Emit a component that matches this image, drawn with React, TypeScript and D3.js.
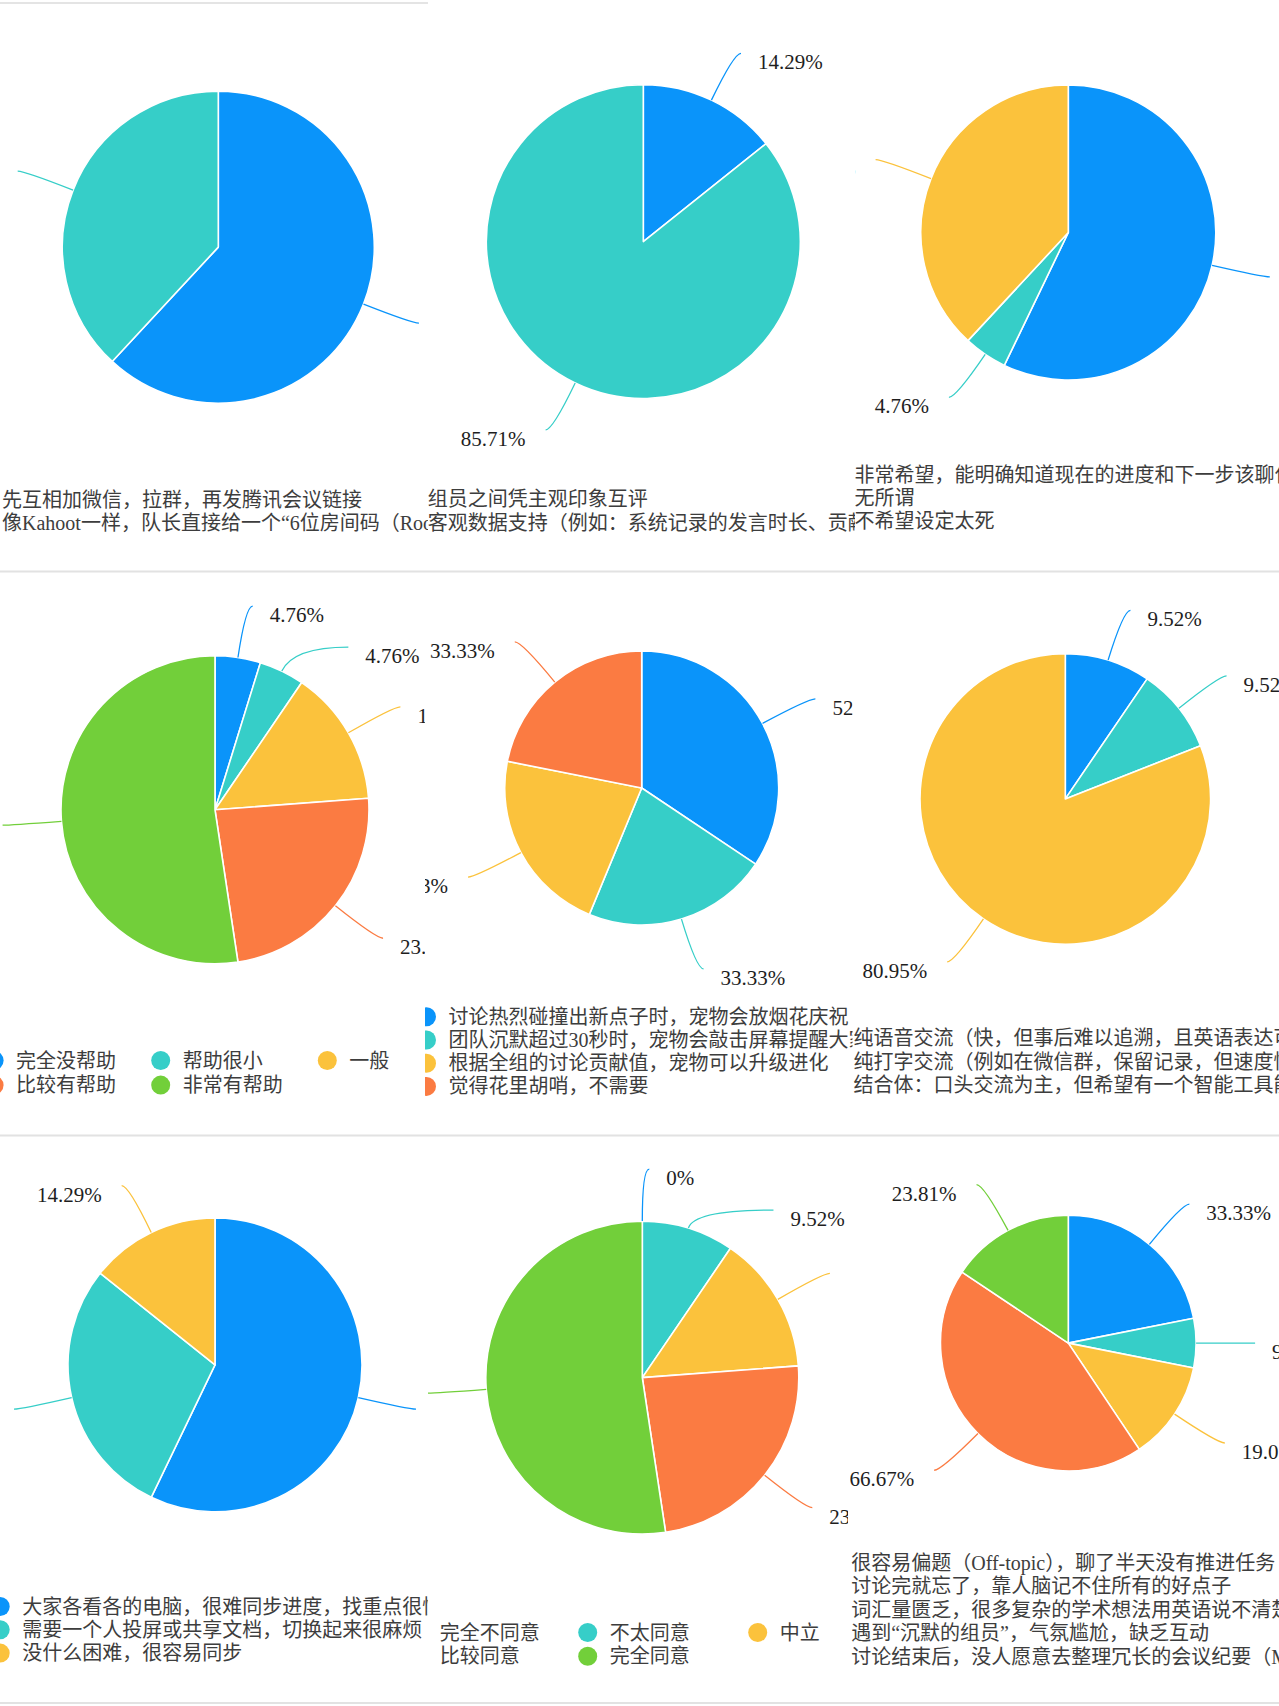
import React from "react";
import * as d3 from "d3";

// ---------- data ----------
const RESPONDENTS = 21;
const SERIES_COLORS = ["#0A94FA", "#36CEC8", "#FBC23C", "#FB7B42", "#72CF3A"];

const q1Options = [
  "先互相加微信，拉群，再发腾讯会议链接",
  "像Kahoot一样，队长直接给一个“6位房间码（Room Code）”，大家输入即可加入",
];
const q1Counts = [13, 8];

const q2Options = [
  "组员之间凭主观印象互评",
  "客观数据支持（例如：系统记录的发言时长、贡献度）",
];
const q2Counts = [3, 18];

const q3Options = [
  "非常希望，能明确知道现在的进度和下一步该聊什么",
  "无所谓",
  "不希望设定太死",
];
const q3Counts = [12, 1, 8];

const q4Options = ["完全没帮助", "帮助很小", "一般", "比较有帮助", "非常有帮助"];
const q4Counts = [1, 1, 3, 5, 11];

const q5Options = [
  "讨论热烈碰撞出新点子时，宠物会放烟花庆祝",
  "团队沉默超过30秒时，宠物会敲击屏幕提醒大家",
  "根据全组的讨论贡献值，宠物可以升级进化",
  "觉得花里胡哨，不需要",
];
const q5Counts = [11, 7, 7, 7];

const q6Options = [
  "纯语音交流（快，但事后难以追溯，且英语表达可能不准确）",
  "纯打字交流（例如在微信群，保留记录，但速度慢）",
  "结合体：口头交流为主，但希望有一个智能工具能实时记录",
];
const q6Counts = [2, 2, 17];

const q7Options = [
  "大家各看各的电脑，很难同步进度，找重点很慢",
  "需要一个人投屏或共享文档，切换起来很麻烦",
  "没什么困难，很容易同步",
];
const q7Counts = [12, 6, 3];

const q8Options = ["完全不同意", "不太同意", "中立", "比较同意", "完全同意"];
const q8Counts = [0, 2, 3, 5, 11];

const q9Options = [
  "很容易偏题（Off-topic），聊了半天没有推进任务",
  "讨论完就忘了，靠人脑记不住所有的好点子",
  "词汇量匮乏，很多复杂的学术想法用英语说不清楚",
  "遇到“沉默的组员”，气氛尴尬，缺乏互动",
  "讨论结束后，没人愿意去整理冗长的会议纪要（Minutes）",
];
const q9Counts = [7, 2, 4, 14, 5];

// ---------- layout ----------
type LegendCfg =
  | { kind: "list"; x: number; y: number; step: number }
  | { kind: "grid"; x: number; y: number; step: number; colW: number; cols: number };

type PanelCfg = {
  options: string[];
  counts: number[];
  clip: [number, number, number, number];
  cx: number;
  cy: number;
  r: number;
  legend: LegendCfg;
};

const PANELS: PanelCfg[] = [
  { options: q1Options, counts: q1Counts, clip: [0, 0, 428, 571], cx: 218.3, cy: 247.1, r: 156,
    legend: { kind: "list", x: 2, y: 499.6, step: 23.6 } },
  { options: q2Options, counts: q2Counts, clip: [428, 0, 855, 571], cx: 643.3, cy: 241.6, r: 157,
    legend: { kind: "list", x: 427.8, y: 499, step: 23.6 } },
  { options: q3Options, counts: q3Counts, clip: [855, 0, 1279, 571], cx: 1068.3, cy: 232.5, r: 147.5,
    legend: { kind: "list", x: 854.5, y: 475.3, step: 22.9 } },
  { options: q4Options, counts: q4Counts, clip: [0, 571, 425, 1135], cx: 215, cy: 809.8, r: 154,
    legend: { kind: "grid", x: -5.9, y: 1060.5, step: 24.6, colW: 166.6, cols: 3 } },
  { options: q5Options, counts: q5Counts, clip: [425, 571, 852.5, 1135], cx: 641.7, cy: 788, r: 137,
    legend: { kind: "list", x: 448.5, y: 1016.8, step: 23.2 } },
  { options: q6Options, counts: q6Counts, clip: [852.5, 571, 1279, 1135], cx: 1065.3, cy: 798.9, r: 145.3,
    legend: { kind: "list", x: 853.5, y: 1038.2, step: 23.3 } },
  { options: q7Options, counts: q7Counts, clip: [0, 1135, 428, 1706], cx: 215, cy: 1364.9, r: 147,
    legend: { kind: "list", x: 22.2, y: 1606.5, step: 23.3 } },
  { options: q8Options, counts: q8Counts, clip: [428, 1135, 848, 1706], cx: 642.3, cy: 1377.6, r: 156.5,
    legend: { kind: "grid", x: 417.7, y: 1632.5, step: 23.8, colW: 170, cols: 3 } },
  { options: q9Options, counts: q9Counts, clip: [850, 1135, 1279, 1706], cx: 1068.3, cy: 1343.1, r: 127.8,
    legend: { kind: "list", x: 851.2, y: 1562.5, step: 23.65 } },
];

const LABEL_LEN1 = 52;
const LABEL_LEN2 = 7;
const LABEL_GAP = 41;
const LABEL_TEXT_GAP_RIGHT = 17;
const LABEL_TEXT_GAP_LEFT = 20;
const MARKER_R = 9.5;
const MARKER_OFFSET = 22;

const SERIF_CJK = "'Liberation Serif', 'Noto Sans CJK SC', serif";

const fmtPct = (c: number) =>
  c === 0 ? "0%" : ((c / RESPONDENTS) * 100).toFixed(2) + "%";

type LabelItem = {
  i: number;
  dx: number;
  dy: number;
  side: number;
  p0: [number, number];
  p1: [number, number];
  x: number;
  y: number;
  shifted: boolean;
};

function layoutLabels(arcs: d3.PieArcDatum<number>[], cx: number, cy: number, r: number): LabelItem[] {
  const items: LabelItem[] = arcs.map((a, i) => {
    const mid = (a.startAngle + a.endAngle) / 2;
    const dx = Math.sin(mid);
    const dy = -Math.cos(mid);
    const side = dx >= -1e-9 ? 1 : -1;
    const p0: [number, number] = [cx + r * dx, cy + r * dy];
    const p1: [number, number] = [cx + (r + LABEL_LEN1) * dx, cy + (r + LABEL_LEN1) * dy];
    return { i, dx, dy, side, p0, p1, x: p1[0] + side * LABEL_LEN2, y: p1[1], shifted: false };
  });
  for (const s of [1, -1]) {
    const list = items.filter((it) => it.side === s).sort((a, b) => a.y - b.y);
    for (let k = 1; k < list.length; k++) {
      if (list[k].y < list[k - 1].y + LABEL_GAP) {
        list[k].y = list[k - 1].y + LABEL_GAP;
        list[k].shifted = true;
      }
    }
  }
  items.forEach((it) => {
    if (!it.shifted) return;
    const R = r + LABEL_LEN1;
    const ddy = it.y - cy;
    it.x = cx + it.side * (Math.sqrt(Math.max(0, R * R - ddy * ddy)) + LABEL_LEN2);
    if (Math.abs(ddy) < Math.abs(it.p1[1] - cy) && Math.abs(it.dy) > 1e-6) {
      const t = ddy / it.dy;
      if (t > r) it.p1 = [cx + t * it.dx, it.y];
    }
  });
  return items;
}

function Panel({ cfg, idx }: { cfg: PanelCfg; idx: number }) {
  const [x0, y0, x1, y1] = cfg.clip;
  const pie = d3.pie<number>().sort(null).value((d) => d);
  const arcs = pie(cfg.counts);
  const arcGen = d3.arc<d3.PieArcDatum<number>>().innerRadius(0).outerRadius(cfg.r);
  const labels = layoutLabels(arcs, cfg.cx, cfg.cy, cfg.r);
  const color = d3.scaleOrdinal<number, string>().domain(d3.range(5)).range(SERIES_COLORS);
  const clipId = `panel-clip-${idx}`;
  const lg = cfg.legend;

  return (
    <g clipPath={`url(#${clipId})`}>
      <defs>
        <clipPath id={clipId}>
          <rect x={x0} y={y0} width={x1 - x0} height={y1 - y0} />
        </clipPath>
      </defs>
      <g transform={`translate(${cfg.cx},${cfg.cy})`}>
        {arcs.map((a, i) => (
          <path key={i} d={arcGen(a) || ""} fill={color(i)} stroke="#fff" strokeWidth={1.6} strokeLinejoin="round" />
        ))}
      </g>
      {labels.map((it) => (
        <g key={"l" + it.i}>
          <path
            d={`M${it.p0[0]},${it.p0[1]} Q${it.p1[0]},${it.p1[1]} ${it.x},${it.y}`}
            fill="none"
            stroke={color(it.i)}
            strokeWidth={1.3}
          />
          <text
            x={it.x + (it.side > 0 ? LABEL_TEXT_GAP_RIGHT : -LABEL_TEXT_GAP_LEFT)}
            y={it.y + 16}
            textAnchor={it.side > 0 ? "start" : "end"}
            fontFamily={SERIF_CJK}
            fontSize={21}
            fill="#1e1e1e"
          >
            {fmtPct(cfg.counts[it.i])}
          </text>
        </g>
      ))}
      {cfg.options.map((opt, i) => {
        let mx: number, my: number;
        if (lg.kind === "list") {
          mx = lg.x - MARKER_OFFSET;
          my = lg.y + i * lg.step;
        } else {
          mx = lg.x + (i % lg.cols) * lg.colW;
          my = lg.y + Math.floor(i / lg.cols) * lg.step;
        }
        return (
          <g key={"lg" + i}>
            <circle cx={mx} cy={my} r={MARKER_R} fill={color(i)} />
            <text x={mx + MARKER_OFFSET} y={my + 7} fontFamily={SERIF_CJK} fontSize={20} fill="#3d3d3d">
              {opt}
            </text>
          </g>
        );
      })}
    </g>
  );
}

export default function App() {
  const W = 1279;
  const H = 1706;
  const borderYs = [571.5, 1135.5, 1703];
  return (
    <svg
      width={W}
      height={H}
      viewBox={`0 0 ${W} ${H}`}
      style={{ position: "absolute", left: 0, top: 0, background: "#fff" }}
    >
      <rect x={0} y={0} width={W} height={H} fill="#fff" />
      <line x1={0} x2={428} y1={3} y2={3} stroke="#e4e4e4" strokeWidth={2} />
      {borderYs.map((y) => (
        <line key={y} x1={0} x2={W} y1={y} y2={y} stroke="#e2e2e2" strokeWidth={2} />
      ))}
      {PANELS.map((p, i) => (
        <Panel key={i} cfg={p} idx={i} />
      ))}
    </svg>
  );
}
